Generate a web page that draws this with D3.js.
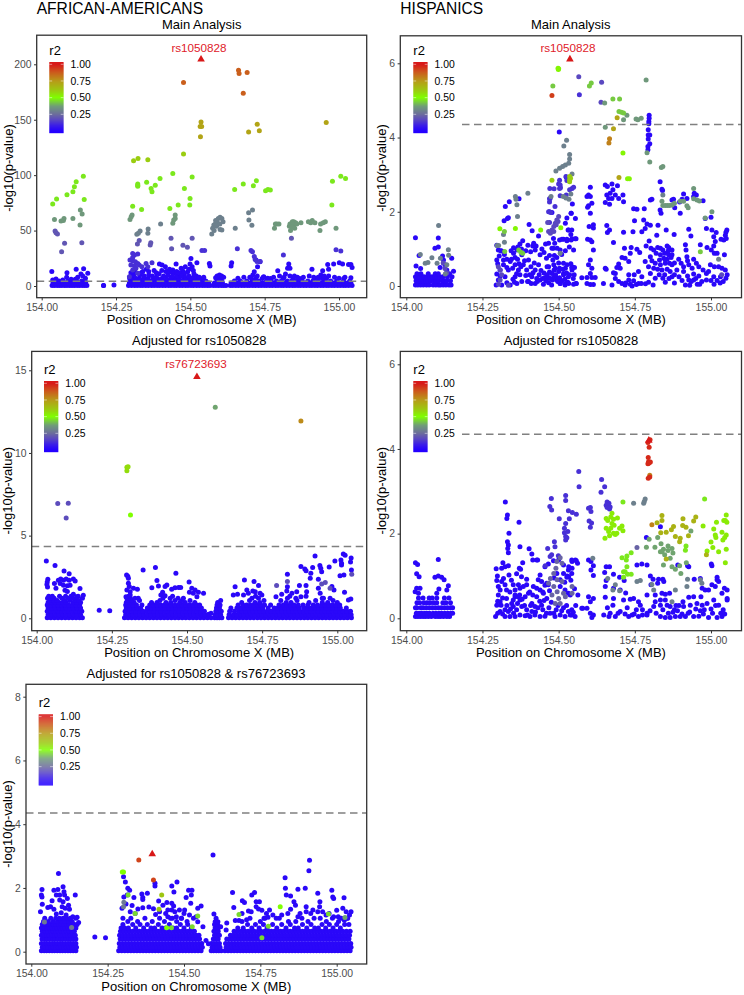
<!DOCTYPE html>
<html><head><meta charset="utf-8">
<script src="https://d3js.org/d3.v7.min.js"></script>
<style>html,body{margin:0;padding:0;background:#fff}svg{display:block}text{font-family:"Liberation Sans",Arial,sans-serif}</style>
</head><body><svg id="c" width="744" height="995"></svg>
<script>
// positions: kb past 154 Mb; y: -log10(p). Rows: [y,[x...]] low-r2 SNPs. Points: [r2,[x,y,x,y...]]
const xTicks=[154,154.25,154.5,154.75,155];
const r2Ticks=[0.25,0.5,0.75,1];
const gwsThreshold=4.35;
const lowR2=0.02;

const aaMainTicks=[0,50,100,150,200];
const aaMainLead=[536,204.5,1];
const aaMainRows=[
[0.4,[35,43,52,60,68,77,85,94,102,110,119,127,136,144,152,292,302,312,321,331,340,350,359,369,378,388,397,407,416,426,435,445,454,464,473,483,492,502,511,521,530,540,549,558,566,577,586,595,604,612,620,634,643,653,662,672,681,691,700,710,719,729,738,748,757,767,776,786,795,805,814,824,833,843,852,862,871,881,890,900,909,919,928,938,947,957,966,976,985,995,1004,1014,1023,1033,1044]],
[2.6,[38,47,56,64,72,81,90,98,106,115,123,131,140,148,295,306,316,326,335,345,354,364,373,383,392,402,411,421,431,440,450,459,469,478,488,497,507,516,526,535,545,553,562,581,590,600,608,637,648,657,667,676,686,695,705,714,724,733,743,752,762,771,781,790,800,809,819,828,838,847,857,866,876,885,895,904,914,923,933,942,952,961,971,980,990,999,1009,1018,1028,1040]],
[4.6,[42,58,70,88,104,118,134,146,298,310,322,338,352,368,384,395,414,428,444,458,474,490,505,520,534,552,590,606,648,668,690,712,730,756,772,790,806,826,840,858,876,895,912,930,950,972,992,1015,1036]],
[6.8,[296,304,318,329,344,358,376,390,404,420,436,449,462,478,486,500,514,528,542,598,720,742,770,812,846,868,918,944,958,1016]]
];
const aaMainPts=[
[0.02,[34,13,85,12,116,15,141,15.6,155,11.4,132,10.8,138,9,121,7.8,99,6,84,7.8,48,6.3,37,5.4,147,6.9,113,6,71,5.4,396,19.8,405,18.9,416,17.4,441,14.4,452,19.8,435,12.9,446,12,469,15.9,483,17.4,474,13.8,502,24.9,499,19.8,522,21,506,17.4,491,12.9,564,20.4,566,18,639,21,637,18,721,23.4,734,21.9,726,17.4,715,12.9,710,9.9,707,6,747,8.4,794,13.8,831,19.8,827,16,835,16,820,10.8,909,15,945,13.8,939,9.9,965,15,962,19.5,982,19.8,1001,21,1012,19.8,1032,19.5,1040,19.5,1044,16.8,300,9,310,10,330,10,335,12,345,9,360,10,372,9,385,8,395,11,410,9,425,10,437,8,455,9,465,11,480,10,495,9,510,8,520,9,530,8,545,8,590,9,598,10,605,9,612,8,585,7.5,660,7,680,8,700,8,725,9,745,8,760,7,780,8,800,9,815,8,835,9,850,9,860,8,880,8,900,9,915,8,930,8,950,9,965,9,985,8,1000,7,1020,8,1040,7.5,208,0.5,243,0.8,404,14,418,13,430,15,454,13,462,12,478,12,495,15,510,14,512,11,470,9,440,9,422,13,360,13,340,13,352,15,378,14,385,12,300,12,313,13,208,.5]],
[0.12,[297,23.4,306,22.8,315,21.9,323,20.4,300,18.9,312,18,328,18.9,317,15.9,337,17.4,351,20.4,371,21,357,17.4,306,14.4,323,11.4,295,8.4,306,29.4,312,27.9,323,28.8,306,25.8,715,26.5,718,24,724,22,735,22,704,32,709,31,539,32,548,32,658,33.7,813,28,990,32.8,1006,31.6]],
[0.2,[45,49.6,48,48,53,47,77,38.5,67,31,135,39,435,43,437,33.7,475,36.7,490,35,506,43,322,38,328,41,365,37,367,39,840,43]],
[0.3,[575,52,579,55,584,56,590,58,594,61,600,62,606,61,610,58,599,56,588,54,580,50,572,47,585,59,400,56,358,51.4,357,47.5,331,49.6,320,46.6,325,47.5,600,51,606,50.5,651,52,696,66,709,68.6,697,59.5,707,54.7]],
[0.36,[43,60,65,58.6,73,59.2,75,61,105,61,130,68.6,136,65,129,55,297,60,301,62.5,304,64,449,64,449,61,444,59.5,441,56.5,783,52,786,56,791,56,798,56,833,54,838,56,843,58,848,58,854,57,835,56,846,56,851,52,858,56,872,57,897,58,905,57,910,59,919,57,936,50,938,56,947,57,954,58,990,52,837,50,843,53]],
[0.47,[441,101.6,506,98.3,140,99,116,94,110,89.6,105,85,85,82.4,50,78.5,37,74,143,78,323,92,323,90,323,91,353,93.5,382,91,398,97,368,88,371,85,480,88,499,79,459,73,498,73,306,72,336,69,431,70,649,87,678,92,722,95,712,90.5,753,86,761,87,769,86.6,978,94.4,1006,99,1022,97,976,73]],
[0.6,[477,119,309,113,324,115,357,114]],
[0.72,[536,148,533,143.8,538,143.8,534,134.7,725,146,696,139,732,140,957,147.4]],
[0.87,[477,183.5,662,194.6,664,191.6,691,192.5,678,173.8]]
];

const hisMainTicks=[0,2,4,6];
const hisMainLead=[537,6.11,1];
const hisMainRows=[
[0.03,[30,38,47,56,66,75,88,97,106,112,121,130,140,147]],
[0.14,[32,40,47,56,64,72,80,90,98,106,118,125,133,145]],
[0.25,[30,35,42,52,58,68,77,85,93,100,110,120,135,150]],
[0.33,[35,48,72,95,105,130,142]]
];
const hisMainPts=[
[0.02,[30,1.3,105,1.29,94,1.02,105,1.05,42,.82,119,.81,32,.54,47,.47,111,.5,122,.7,149,.75,155,.4,133,.43,127,.57,338,2.27,325,2.14,370,2.35,332,1.82,321,1.76,335,1.84,434,1.35,413,1.49,403,1.66,297,1.1,302,.97,313,.94,297,.7,305,.81,319,.7,319,.57,308,.43,297,.32,302,.16,295,.03,313,.03,308,.27,324,.25,330,.09,341,.03,335,.43,341,.66,352,.88,357,.77,363,.97,373,1.13,382,1.22,365,.72,379,.84,357,.57,349,.48,368,.43,373,.3,357,.25,379,.12,363,.07,384,.57,401,.7,399,1.1,415,1.08,426,1.08,439,.84,423,.97,434,.57,409,.52,423,.43,395,.43,412,.25,428,.2,401,.12,423,.07,439,.16,456,.23,450,.05,467,.09,477,.03,494,.16,505,.07,521,.03,485,.43,503,.48,516,.34,532,.25,467,.52,481,.7,494,.77,505,.97,483,1.02,467,1.15,457,1.13,503,1.24,516,1.26,527,1.22,483,1.28,470,2,478,1.98,527,1.83,531,1.51,541,1.96,522,1.69,533,1.51,540,1.39,544,1.27,527,1.26,511,1.26,557,1.27,487,1.15,478,1.02,495,1.02,516,.61,527,.57,544,.52,522,.48,484,.57,489,.48,500,.39,462,.52,478,.34,467,.21,495,.21,505,.07,533,.07,549,.05,557,.07,522,.07,544,.43,516,.3,604,2.66,598,2.45,593,2.41,604,2.41,609,2.23,598,2.16,595,2.12,604,1.96,545,2.21,541,1.96,555,1.82,653,2.72,660,2.68,675,2.75,693,2.7,653,2.25,667,2.2,678,2.59,669,2.5,658,2.45,686,2.45,675,2.36,664,2.36,697,2.36,711,2.45,713,2.27,833,2.81,839,2.61,841,2.57,746,2.08,757,2.07,781,2.08,801,2.32,806,2.34,833,2.05,836,1.96,881,2.11,899,1.96,872,2.32,877,2.34,897,2.26,905,2.34,910,2.48,921,2.36,945,2.5,952,2.45,943,2.41,974,2.3,543,1.51,541,1.24,554,1.27,595,1.26,604,1.24,609,1.19,614,.97,549,.97,600,1.6,614,1.65,614,1.56,658,1.63,667,1.51,660,1.44,713,1.45,744,1.46,773,1.46,784,1.55,779,1.78,749,1.76,790,1.67,801,1.64,826,1.64,853,1.51,879,1.39,927,1.53,934,1.35,985,1.55,1003,1.51,1017,1.44,981,1.82,1000,1.85,1052,1.51,1049,1.45,1047,1.37,1042,1.24,1009,1.33,1014,1.2,1033,1.26,1050,1.28,1009,1.08,680,1.17,738,1.04,757,.99,766,.9,797,1.21,787,1.08,803,1.02,822,1.37,812,.97,825,1.04,834,1.02,842,.97,856,1.08,861,1.04,872,.97,820,.88,834,.84,848,.88,861,.84,872,.84,831,.7,845,.75,856,.72,869,.77,817,.61,834,.57,850,.61,864,.61,872,.57,801,.79,806,.68,784,.66,795,.52,812,.48,825,.45,839,.43,856,.45,866,.39,888,.43,872,.25,801,.34,817,.21,842,.21,894,.72,902,.61,921,.79,923,.68,943,.72,952,.61,910,.52,927,.57,938,.48,960,.52,910,.39,923,.27,943,.32,960,.27,974,.43,985,.34,985,.16,916,.03,943,.16,963,.05,927,.16,998,.57,1011,.52,1025,.52,1036,.48,1047,.43,1001,.97,1020,.88,992,.39,1009,.25,1031,.25,1049,.21,1053,.3,1044,.84,916,1.11,918,.97,965,1.11,987,1.04,1011,.88,716,1.02,708,.77,735,.88,718,.75,730,.66,697,.59,702,.48,691,.5,686,.34,653,.48,680,.36,656,.45,576,.22,551,.3,604,.7,598,.57,609,.48,604,.34,593,.23,609,.23,620,.23,543,.49,558,.07,604,.04,614,.04,593,.07,647,.07,675,.03,686,.2,697,.12,708,.07,718,.03,730,.3,748,.3,730,.16,746,.14,741,0,762,.39,773,.25,762,.07,771,.07,810,.03,720,.08,735,.05,755,.04,785,.06,795,.1,850,.1,880,.08,930,.02,955,.05,1010,.05,1030,.08,794,4.21,794,4.07,799,4.07,794,3.96,799,3.83,793,3.76,793,3.67,502,4.15,525,2.93,797,4.6,797,4.52,796,4.43,796,4.37,300,.6,310,.95,322,.85,330,.5,345,.72,350,.18,355,.1,362,.33,370,.6,376,.52,388,.68,392,.28,398,.12,405,.3,410,.07,416,.36,420,.62,430,.12,436,.3,442,.42,447,.2,452,.35,458,.14,463,.3,470,.38,474,.2,480,.16,486,.25,490,.3,497,.12,503,.22,510,.14,514,.45,520,.18,526,.35,530,.1,536,.3,540,.6,548,.2,552,.5,330,.72,344,.95,352,1.03,366,1.05,378,1.0,392,.95,408,.92,418,1.15,445,1,452,.9,460,.75,470,.82,486,.82,500,.62,510,.85,522,.95,535,1.05,830,.3,848,.3,862,.2,880,.3,895,.25,905,.15,935,.12,950,.2,970,.12,1000,.15,1020,.15,1040,.12,850,.7,880,.62,860,.95]],
[0.12,[503,2.85,500,2.75,506,2.65,568,5.15,470,2.35,544,2.63,536,2.59,549,2.66,505,2.43,525,2.45,471,2.63,485,2.62,505,2.72,503,2.63,524,2.95,527,2.84,472,2.36,470,2.26,488,2.14,467,2,474,1.98,470,1.71]],
[0.17,[566,5.64,641,5.49,639,4.95,500,1.87,494,1.78,489,1.69,484,1.6,478,1.51,467,1.47,473,1.42,484,1.47,464,1.71,492,1.65,498,1.74,302,.52,308,.43,313,.3,308,.16,303,.05,335,.02,121,.62,127,.47,133,.36,1035,.3]],
[0.3,[526,3.93,517,3.77,536,3.54,536,3.42,533,3.31,522,3.26,513,3.22,503,3.17,491,3.1,544,3.02,540,2.48,515,2.41,524,2.37,534,2.34,475,2.41,358,2.41,360,2.34,399,2.5,363,2.19,365,1.87,842,2.45,319,1.39,322,1.18,298,1.09,303,1.09,106,1.63,138,.98,139,.83,84,.76,112,.75,46,.85,62,.61,71,.63,101,.61,133,.57,128,.32,505,.88,1025,.72]],
[0.36,[787,5.55,724,4.6,713,4.48,754,4.5,760,4.48,771,4.52,653,4.28,790,3.59,1003,2,981,1.83,943,2.63,839,2.28,842,2.17,850,2.17,857,2.17,864,2.17,872,2.18,880,2.23,899,2.28,910,2.28,921,2.16,925,2.11,943,2.35,954,2.32,962,2.29,651,4.93,837,3.19,842,3.22,799,3.34]],
[0.43,[601,5.39,607,5.47,481,5.39,678,5.04,700,5.04,698,4.7,706,4.68,713,4.66,369,.97,376,.91,382,.88,323,.93,322,1.47,965,.92]],
[0.52,[498,5.87,499,5.83,500,5.85,711,3.58,307,1.54,358,1.55,441,1.51,507,1.57,726,2.89,732,2.89]],
[0.6,[536,2.95,536,2.86,536,2.81,539,2.9,478,2.85]],
[0.72,[692,4.53,680,4.24,698,2.92]],
[0.8,[667,3.97,665,3.85]],
[0.93,[478,5.13]]
];

const aaAdj1Ticks=[0,5,10,15];
const aaAdj1Lead=[533,14.6,1];
const aaAdj1Rows=[
[0.04,[35,47,59,71,83,95,107,119,131,143,152,292,304,316,328,340,352,364,376,388,400,412,424,436,448,460,472,484,496,508,520,532,544,556,568,580,592,600,608,616,638,650,662,674,686,698,710,722,734,746,758,770,782,794,806,818,830,842,854,866,878,890,902,914,926,938,950,962,974,986,998,1010,1022,1034,1047]],
[0.22,[38,50,62,74,86,98,110,122,134,146,296,308,320,332,344,356,368,380,392,404,416,428,440,452,464,476,488,500,512,524,536,548,560,572,594,602,612,640,654,666,678,690,702,714,726,738,750,762,774,786,798,810,822,834,846,858,870,882,894,906,918,930,942,954,966,978,990,1002,1014,1026,1038,1046]],
[0.42,[35,47,59,71,83,95,107,119,131,143,150,294,306,318,330,342,354,366,378,390,402,414,426,438,450,462,474,486,498,510,522,534,546,558,596,606,614,642,658,672,684,696,708,720,732,744,756,768,780,792,804,816,828,840,852,864,876,888,900,912,924,936,948,960,972,984,996,1008,1020,1032,1044]],
[0.62,[38,50,62,74,86,98,110,122,134,146,298,310,322,334,346,368,380,392,404,416,428,440,452,464,476,488,500,512,524,536,548,598,608,646,666,680,692,704,716,728,740,752,770,790,802,814,826,838,850,862,874,890,902,914,926,938,950,962,974,986,998,1010,1030]],
[0.8,[35,47,59,71,83,95,107,119,131,143,296,308,320,332,350,376,388,400,412,424,436,448,460,472,484,496,508,520,532,542,600,610,670,686,698,710,722,734,746,758,778,806,820,832,844,856,870,886,902,920,934,948,960,972,984,996,1008]],
[0.95,[38,50,62,74,86,98,122,134,146,298,310,324,382,400,430,446,476,494,526,602,682,726,742,830,846,906,950,968,1000]],
[1.08,[44,56,68,92,110,128,140,302,316,342,410,460,484,510,612,708,756,812,866,928,986]],
[1.22,[36,46,58,84,104,120,152,300,312,420,444,470,488,716,738,834,862,950,976]],
[1.33,[40,52,76,96,114,138,306,452,728,842,896]]
];
const aaAdj1Pts=[
[0.02,[32,3.47,61,3.2,91,2.86,108,2.7,37,2.36,35,2.2,34,2.05,36,1.9,59,2.1,64,1.82,72,2.3,80,2.38,89,2.3,98,2.38,108,2.3,122,2.38,128,2.25,78,2.1,89,2,102,1.97,111,2,94,1.7,102,1.62,144,1.8,122,1.45,133,1.31,155,1.4,299,2.62,303,2.55,354,2.92,395,3.08,463,2.72,507,2.2,400,2.28,305,2.12,308,1.92,300,1.71,311,1.61,297,1.31,322,1.81,335,1.75,311,1.41,327,1.21,338,1.21,305,2.42,383,1.85,405,1.96,427,1.92,433,2.02,419,1.57,413,1.41,427,1.37,449,1.75,460,1.85,472,1.87,479,1.87,516,1.81,527,1.71,508,1.57,521,1.51,538,1.57,555,1.51,533,1.31,660,1.91,654,1.41,668,1.45,691,2.32,723,2.22,738,1.98,699,1.71,719,1.65,688,1.41,704,1.51,727,1.61,743,1.51,749,1.41,796,1.31,815,1.45,834,2.66,834,1.91,832,1.65,849,1.51,865,1.61,874,1.98,896,1.98,879,1.31,898,1.61,910,2.42,879,3.13,892,2.98,896,2.88,918,3.08,942,3.2,945,3.02,948,2.82,973,3.1,912,2.72,1009,2.58,1022,2.62,1047,2.92,937,2.36,926,3.77,1020,3.89,1026,3.81,1046,3.65,992,3.47,1012,3.53,1044,3.41,1014,3.23,1014,3.33,1024,1.57,937,1.81,982,1.92,989,1.71,1037,1.11,1045,1.17,943,1.51,954,1.21,208,.48,243,.46,580,.3,572,.25]],
[0.18,[70,6.94,105,6.96,98,6.07,948,2.08,960,2.16,834,2.22,976,1.81,1048,2.66,798,1.98]],
[0.38,[594,12.76]],
[0.5,[312,6.25]],
[0.57,[300,9.13,304,9.17,300,8.93]],
[0.78,[879,11.94]]
];

const hisAdjTicks=[0,2,4,6];
const hisAdjLead=[796,4.2,1];
const hisAdjRows=[
[0.04,[30,38,46,55,63,72,82,95,104,112,122,133,142]],
[0.12,[33,42,50,60,68,76,88,98,108,116,126,136,146,152]],
[0.25,[30,35,48,55,65,75,85,95,105,115,125,135,145,152]],
[0.37,[35,44,58,68,78,90,100,120,130,145]],
[0.48,[40,55,75,85,100,125,140]]
];
const hisAdjPts=[
[0.02,[30,1.31,37,1.27,105,1.39,34,1.05,42,.98,94,.97,105,1,116,.97,124,.91,138,.77,133,.67,107,.69,100,.59,34,.71,45,.71,29,.63,40,.59,325,2.75,332,2.44,330,2.36,370,2.27,337,2.01,332,1.81,335,1.73,333,1.65,335,1.55,373,1.69,403,1.64,412,1.52,415,1.38,428,1.38,431,1.38,371,1.18,375,1.16,382,1.31,295,1.17,313,1.18,317,1.31,324,1.22,335,1.24,319,.94,337,1.02,299,1,297,.89,302,.75,313,.87,324,.79,308,.67,329,.67,302,.55,329,.47,311,.31,297,.31,293,.04,308,.16,324,.04,335,.16,351,.28,357,.51,351,.79,368,.79,357,.67,373,.71,384,.75,395,.92,395,.79,357,.55,368,.51,346,.35,362,.2,379,.28,395,.2,412,.35,428,.51,450,.59,466,.79,433,.91,444,.87,461,.83,439,1.02,455,1.22,466,1.28,483,1.36,439,.67,428,.71,417,.75,324,.2,340,.04,357,.04,373,.08,390,.06,406,.04,422,.08,439,.04,455,.05,472,.12,488,.04,505,.08,521,.04,532,.16,308,.39,351,.43,373,.43,390,.51,401,.59,461,.47,444,.31,422,.28,412,.16,505,.75,521,.67,532,.59,505,.91,527,.97,494,1.06,516,1.26,532,1.14,544,1.34,555,1.38,533,1.22,500,1.38,516,1.06,544,1.18,533,.98,562,1.3,579,.24,543,1.38,558,1.36,598,1.38,606,1.34,614,1.24,606,1.14,543,1.06,614,1.01,656,1.22,667,1.22,651,1.08,680,1.04,700,.97,656,.89,715,.89,653,.75,680,.71,702,.67,653,.5,680,.47,713,.43,678,.31,669,.12,702,.16,718,.1,686,.04,648,.08,746,.47,762,.39,768,.31,741,.08,762,.04,614,.47,598,.51,604,.39,593,.24,576,.24,604,.12,614,.08,538,.55,543,.2,554,.04,543,.08,609,.02,757,1.26,773,1.28,790,1.26,834,2.16,788,1.91,891,1.26,923,1.24,1001,1.28,1003,1.24,927,1.22,801,1,810,.92,828,.92,842,.92,803,.79,825,.83,845,.87,790,.55,817,.55,839,.59,850,.57,864,.59,817,.39,834,.43,850,.43,812,.28,834,.31,856,.31,820,.12,842,.2,866,.28,834,.04,850,.02,866,.02,883,.04,899,.04,908,.39,927,.5,943,.51,971,.71,981,.67,967,.51,992,.67,1020,.91,1036,.59,1014,.75,1003,.79,910,.28,932,.31,954,.35,971,.31,987,.35,1009,.43,1025,.31,1053,.43,916,.04,943,.04,960,.05,992,.02,1020,.02,1036,.04,1053,.47,945,.92,965,.94,1020,.97,1025,.87,1053,.67,1044,.71,730,.04,748,.1,775,.08,790,.12,880,.2,895,.3,930,.15,975,.1,1005,.12,1040,.2,300,.12,316,.1,330,.3,342,.22,352,.12,365,.35,372,.55,380,.45,388,.3,398,.08,408,.3,415,.55,424,.15,432,.25,438,.4,448,.2,452,.42,460,.12,468,.25,476,.38,484,.12,492,.2,498,.3,510,.18,516,.25,526,.3,538,.08,548,.14,556,.3,563,.55,552,.7,540,.9,528,1,520,.85,485,.95,470,.65,455,.78,448,.62,405,.62,378,.98,362,1.05,345,.9,340,.62,316,.48,300,.4,890,.18,905,.1,925,.12,950,.22,965,.18,978,.2,1000,.22,1015,.3,1032,.12,1045,.1,860,.12,875,.14,885,.3,800,.18,790,.08,775,.2,755,.2,725,.25,735,.45,720,.6,695,.12,660,.25,665,.04]],
[0.12,[471,2.64,477,2.56,476,2.83,523,2.9,523,2.78,502,2.35,523,2.24,519,2.13,519,2.02,523,1.93,523,1.85,532,2.54,486,1.81,464,1.65,499,1.48,472,1.46,477,1.5,488,1.69,456,1.24,566,3.47,567,3.11,641,3.28,651,3.11,639,2.98,659,2.75,665,2.72,656,2.67,664,2.67,669,2.63,659,2.62,667,2.58,604,2.62,598,2.6,606,2.52,608,2.25,600,2.3,604,2.15,545,2.5,558,2.46,535,2.35,530,2.05,527,1.9]],
[0.23,[505,1.43,494,1.34,511,1.3,491,1.18,484,1.06,473,.94,495,.91,511,.87,467,.83,484,.75,495,.63,516,.59,500,.47,522,.51,478,.55,544,.59,505,.35,489,.35,544,.75,757,1.67]],
[0.3,[612,1.42,661,.94,678,.67,686,.79,700,.65,757,.87,768,.89,806,.8,812,.67,883,.67,872,.39,921,.75,923,.92,970,.83,965,.91,746,2.72,781,2.76,784,2.82,779,2.72]],
[0.38,[934,2.06,825,1.91,797,1.87,788,1.68,816,1.68,836,1.76,834,1.57,859,1.71,844,1.63,839,1.57,872,1.65,859,1.6,848,1.5,875,1.54,866,1.42,844,1.26,872,1.22,883,1.16,897,1.24,901,1.06,919,1.31]],
[0.47,[738,1.55,724,1.47,708,1.43,722,1.38,724,1.22,718,1.1,713,1.1,726,1.04,738,1.04,713,.97,918,1.71,916,1.61,711,2.75,979,2.82]],
[0.54,[675,2.48,671,2.39,693,2.37,656,2.36,661,2.31,680,2.34,675,2.24,682,2.2,656,2.13,708,2.18,700,2.13,711,2.07,671,2.13,664,2.05,680,2.01,691,2.01,686,1.98,667,1.95,652,1.89,1050,2.44,1047,2.31,1052,2.27,1042,2.31,1018,2.27,1009,2.11,1036,2.03,1014,1.97,1016,1.91,1000,1.8,1050,1.97,1045,1.91,1039,1.85,1006,1.67,1025,1.57,1050,1.63,987,1.59,1047,1.31,974,2.18]],
[0.68,[839,2.43,823,2.26,839,2.31,908,2.35,950,2.39,943,2.3,907,2.19,918,2.15,877,2.17,870,2.09,835,2.02,853,2.03,899,1.89,897,1.81,926,1.95,883,1.93,985,1.5,853,1.4]],
[0.8,[806,2.21,799,3.38]],
[0.97,[793,4.15,800,4.22,797,4.04,794,3.8,795,3.7,801,3.69,793,3.65,797,3.67,794,3.31,799,3.34]]
];

const aaAdj2Ticks=[0,2,4,6,8];
const aaAdj2Lead=[396,3.06,1];
const aaAdj2Rows=[
[0.03,[33,42,50,59,68,76,85,94,102,111,120,128,137,146,286,296,306,316,326,336,346,356,366,376,386,396,406,416,426,436,446,456,466,476,486,496,506,516,526,536,546,556,589,597,606,614,622,634,644,654,664,674,684,694,704,714,724,734,744,754,764,774,784,794,804,814,824,834,844,854,864,874,884,894,904,914,924,934,944,954,964,974,984,994,1004,1014,1024,1034,1044]],
[0.14,[36,45,54,63,72,80,89,98,106,115,124,132,141,148,290,300,310,320,330,340,350,360,370,380,390,400,410,420,430,440,450,460,470,480,490,500,510,520,530,540,550,560,592,600,609,618,638,648,658,668,678,688,698,708,718,728,738,748,758,768,778,788,798,808,818,828,838,848,858,868,878,888,898,908,918,928,938,948,958,968,978,988,998,1008,1018,1028,1038,1047]],
[0.26,[33,42,50,59,68,76,85,94,102,111,120,128,137,146,288,298,308,318,328,338,348,358,368,378,388,398,408,418,428,438,448,458,468,478,488,498,508,518,528,538,548,558,590,598,607,616,636,646,656,666,676,686,696,706,716,726,736,746,756,766,776,786,796,806,816,826,836,846,856,866,876,886,896,906,916,926,936,946,956,966,976,986,996,1006,1016,1026,1036,1046]],
[0.4,[35,44,52,61,70,78,87,96,104,113,122,130,139,146,291,301,311,321,331,341,351,361,371,381,391,401,411,421,431,441,451,461,471,481,491,501,511,521,531,541,551,596,604,612,640,650,660,670,680,690,700,710,720,730,740,750,760,770,780,790,800,810,820,830,840,850,860,870,880,890,900,910,920,930,940,950,960,970,980,990,1000,1010,1020,1030,1040]],
[0.52,[33,42,50,59,68,76,85,94,102,111,120,128,137,144,289,299,309,319,329,339,349,359,369,379,389,399,409,419,429,439,449,459,469,479,489,499,509,519,529,539,549,600,608,616,652,662,672,682,692,702,712,722,732,742,752,762,772,782,792,802,812,822,832,842,852,862,872,882,892,902,912,922,932,942,952,962,972,982,992,1002,1012,1022,1032,1042]],
[0.64,[36,45,54,63,72,80,89,98,106,115,124,132,141,292,302,312,322,332,344,354,364,374,384,394,404,414,424,434,444,454,464,474,484,494,504,514,524,534,598,606,612,664,676,688,700,710,720,730,742,752,764,776,786,796,806,816,826,838,848,858,868,878,888,898,908,918,928,938,948,958,968,978,988,998,1008,1020,1032,1044]],
[0.74,[33,42,50,59,68,76,85,94,102,111,120,128,137,146,294,306,318,342,368,392,404,428,440,464,476,500,524,602,612,676,694,722,746,772,804,834,862,874,902,928,940,964,988,1012]],
[0.85,[36,45,54,63,72,80,89,98,106,115,124,132,141,150,300,332,356,380,416,452,488,512,600,610,708,734,760,790,820,848,888,916,952,976,1000,1026,1040]],
[0.95,[40,56,72,86,98,110,122,134,316,348,396,436,476,510,690,750,842,866,906,966,1006]],
[1.05,[44,64,80,92,104,116,128,146,300,326,372,420,462,492,716,765,812,886,926,946,986,1034]]
];
const aaAdj2Pts=[
[0.02,[89,2.45,35,1.95,33,1.78,35,1.72,36,1.49,30,1.25,74,1.93,87,1.95,104,2.04,107,1.88,82,1.78,93,1.78,109,1.78,144,1.78,68,1.6,93,1.62,104,1.57,118,1.67,122,1.46,63,1.41,54,1.39,74,1.33,101,1.41,111,1.36,125,1.33,98,1.22,82,1.18,114,1.15,136,1.1,150,1.08,155,.92,302,2.35,308,2.19,316,1.99,322,1.93,314,1.78,303,1.72,297,1.36,336,1.7,362,1.81,365,1.7,380,1.83,365,1.64,405,2.15,405,2.06,460,2.06,477,2.19,467,1.87,515,1.93,526,1.93,524,1.78,507,1.7,417,1.59,431,1.46,444,1.54,460,1.52,466,1.43,485,1.31,502,1.31,522,1.52,545,1.36,556,1.43,324,1.25,349,1.34,365,1.38,407,1.17,420,1.25,447,1.31,460,1.31,447,1.1,456,1.05,475,1.1,491,1.05,518,1.15,531,1.05,545,.94,562,.78,598,1.18,605,1.05,602,.94,611,.94,620,.78,638,.68,659,1.86,663,1.39,691,1.6,698,1.54,722,1.78,731,1.86,711,1.28,736,1.57,747,1.57,736,1.41,744,1.34,780,1.31,791,1.15,802,1.05,831,2.32,832,1.99,835,1.78,849,1.75,873,1.96,897,1.99,911,2.87,909,2.54,860,1.57,865,1.46,938,1.83,945,1.57,944,1.41,849,1.33,873,1.1,900,1.41,900,1.25,922,1.31,938,1.25,954,1.25,965,1.15,984,1.93,987,1.72,990,1.67,1024,1.69,1020,1.36,1031,1.25,1042,1.15,1047,1.25,1025,.99,595,3.03,208,.46,243,.44,580,.25,572,.35,680,.98,668,.98,705,1,762,1.05,775,1.08,990,1.1,1005,1.1,1015,1.05,310,1.5,330,1.45,340,1.2,385,1.4,400,1.35,440,1.2,470,1.25,500,1.2,540,1.1,640,.9,690,1.2,720,1.25,755,1.3,770,1.2,820,1.15,840,1.2,880,1.2,915,1.2,975,1.2,1000,1.3,1036,1.05]],
[0.28,[43,.93,132,.76,303,1.55,302,1.41]],
[0.45,[317,1.78,340,1.2,545,1.12,459,.75,527,.78,680,1.17,973,1.18,776,.8,755,.44]],
[0.38,[1027,1.07]],
[0.5,[298,2.5,302,2.5,443,.75,815,1.41]],
[0.62,[427,1.78,418,1.33]],
[0.92,[352,2.88,400,2.25]]
];

const PANELS=[
{super:"AFRICAN-AMERICANS",title:"Main Analysis",rows:aaMainRows,pts:aaMainPts,lead:aaMainLead,label:"rs1050828",labelAt:[199,48.3],yT:aaMainTicks,f:[36.7,366.7,35.2,297.7],xr:[41.7,339],yr:[286,64.3],leg:[49.3,62],titleY:29,titleX:201.7,yl:[13,168],xlY:323.5,lw:0},
{super:"HISPANICS",title:"Main Analysis",rows:hisMainRows,pts:hisMainPts,lead:hisMainLead,label:"rs1050828",labelAt:[568,48.3],yT:hisMainTicks,f:[400.3,741.5,35.8,297.7],xr:[406.3,711],yr:[286,63.3],leg:[413.3,62],titleY:29,titleX:570.7,yl:[386,168],xlY:323.5,lw:462},
{title:"Adjusted for rs1050828",rows:aaAdj1Rows,pts:aaAdj1Pts,lead:aaAdj1Lead,label:"rs76723693",labelAt:[196,364.3],yT:aaAdj1Ticks,f:[31.7,366.7,351.4,630.7],xr:[36.7,337.3],yr:[618.3,370.3],leg:[44,381],titleY:344.5,titleX:199.3,yl:[12,490.7],xlY:657,lw:0},
{title:"Adjusted for rs1050828",rows:hisAdjRows,pts:hisAdjPts,lead:hisAdjLead,label:"",labelAt:[0,0],yT:hisAdjTicks,f:[400.3,741.5,351.4,630.7],xr:[406.3,711],yr:[618.3,364.3],leg:[413.3,381],titleY:344.5,titleX:571,yl:[386,490.7],xlY:657,lw:462},
{title:"Adjusted for rs1050828 & rs76723693",rows:aaAdj2Rows,pts:aaAdj2Pts,lead:aaAdj2Lead,label:"",labelAt:[0,0],yT:aaAdj2Ticks,f:[26,366.7,684.3,964],xr:[31.3,336.7],yr:[951.7,696.7],leg:[38.7,714.3],titleY:677.5,titleX:196,yl:[12,824],xlY:990.5,lw:0}
];

const svg=d3.select("#c");
const color=d3.scaleLinear().domain([0,.08,.17,.25,.37,.5,.6,.75,.88,1]).range(["#2400ff","#3a1ce8","#5a48c0","#6c6c9c","#6f9c78","#7fff00","#9acd10","#b89a18","#cc5a1c","#d81818"]).clamp(true);
const axisLabel=13;
PANELS.forEach(p=>{
  const [L,R,T,B]=p.f;
  const g=svg.append("g");
  const x=d3.scaleLinear().domain([154,155]).range(p.xr);
  const y=d3.scaleLinear().domain([0,d3.max(p.yT)]).range(p.yr);
  const X=k=>x(154+k/1000);
  if(p.super) svg.append("text").attr("x",L).attr("y",13.5).attr("font-size",15.6).attr("fill","#000").text(p.super);
  g.append("text").attr("x",p.titleX).attr("y",p.titleY).attr("text-anchor","middle").attr("font-size",13).attr("fill","#000").text(p.title);
  const low=color(lowR2);
  const dots=g.append("g");
  p.rows.forEach(([yv,xs])=>{
    dots.selectAll(null).data(xs).enter().append("circle").attr("cx",d=>X(d)).attr("cy",y(yv)).attr("r",2.5).attr("fill",low);
  });
  p.pts.forEach(([r2,flat])=>{
    const pairs=d3.pairs(flat).filter((_,i)=>i%2===0);
    dots.selectAll(null).data(pairs).enter().append("circle").attr("cx",d=>X(d[0])).attr("cy",d=>y(d[1])).attr("r",2.5).attr("fill",color(r2));
  });
  g.append("line").attr("x1",p.lw||L).attr("x2",R).attr("y1",y(gwsThreshold)).attr("y2",y(gwsThreshold)).attr("stroke","#808080").attr("stroke-width",1.5).attr("stroke-dasharray","7.5,4.5");
  const [lx,ly,lr]=p.lead;
  g.append("path").attr("d",d3.symbol(d3.symbolTriangle,25)()).attr("transform",`translate(${X(lx)},${y(ly)})`).attr("fill",color(lr));
  if(p.label) g.append("text").attr("x",p.labelAt[0]).attr("y",p.labelAt[1]+4).attr("text-anchor","middle").attr("font-size",11.7).attr("fill","#e0202a").text(p.label);
  g.append("rect").attr("x",L).attr("y",T).attr("width",R-L).attr("height",B-T).attr("fill","none").attr("stroke","#333").attr("stroke-width",1.3);
  const ax=d3.axisBottom(x).tickValues(xTicks).tickFormat(d3.format(".2f")).tickSize(2.7).tickPadding(3);
  const axG=g.append("g").attr("transform",`translate(0,${B})`).call(ax);
  const ay=d3.axisLeft(y).tickValues(p.yT).tickFormat(d3.format("d")).tickSize(2.7).tickPadding(2.5);
  const ayG=g.append("g").attr("transform",`translate(${L},0)`).call(ay);
  [axG,ayG].forEach(a=>{a.select(".domain").remove();a.selectAll("line").attr("stroke","#333");a.selectAll("text").attr("fill","#4d4d4d").attr("font-size",10.4).attr("font-family",'"Liberation Sans",Arial,sans-serif');});
  g.append("text").attr("x",(L+R)/2).attr("y",p.xlY).attr("text-anchor","middle").attr("font-size",axisLabel).attr("fill","#000").text("Position on Chromosome X (MB)");
  g.append("text").attr("transform",`translate(${p.yl[0]},${p.yl[1]}) rotate(-90)`).attr("text-anchor","middle").attr("font-size",axisLabel).attr("fill","#000").text("-log10(p-value)");
  const [lgx,lgy]=p.leg, bw=14.3, bh=70.7;
  const ly2=d3.scaleLinear().domain([0,1]).range([lgy+bh-1.7,lgy+2.3]);
  g.append("text").attr("x",lgx).attr("y",lgy-7.5).attr("font-size",13).attr("fill","#000").text("r2");
  const slices=d3.range(lgy,lgy+bh,1);
  g.selectAll(null).data(slices).enter().append("rect").attr("x",lgx).attr("y",d=>d).attr("width",bw).attr("height",1.2).attr("fill",d=>color(ly2.invert(d+0.5)));
  r2Ticks.forEach(t=>{
    const ty=ly2(t);
    g.append("line").attr("x1",lgx).attr("x2",lgx+bw*.2).attr("y1",ty).attr("y2",ty).attr("stroke","#fff").attr("stroke-width",.5);
    g.append("line").attr("x1",lgx+bw*.8).attr("x2",lgx+bw).attr("y1",ty).attr("y2",ty).attr("stroke","#fff").attr("stroke-width",.5);
    g.append("text").attr("x",lgx+bw+7).attr("y",ty+3.8).attr("font-size",10.4).attr("fill","#000").text(d3.format(".2f")(t));
  });
});
</script></body></html>
